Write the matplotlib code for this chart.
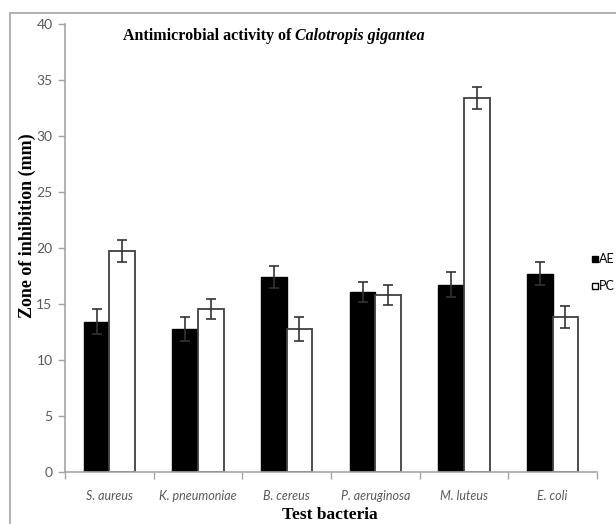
#!/usr/bin/env python3
"""
Grouped bar chart: antimicrobial activity of Calotropis gigantea
(zone of inhibition, AE vs PC, with error bars).
"""

import numpy as np
import matplotlib
matplotlib.use("Agg")
import matplotlib.pyplot as plt
from matplotlib.patches import Rectangle

bacteria = ["S. aureus", "K. pneumoniae", "B. cereus",
            "P. aeruginosa", "M. luteus", "E. coli"]
ae_values = [13.4, 12.75, 17.4, 16.05, 16.7, 17.7]
ae_errors = [1.1, 1.05, 1.0, 0.9, 1.1, 1.0]
pc_values = [19.7, 14.5, 12.75, 15.8, 33.4, 13.8]
pc_errors = [1.0, 0.9, 1.1, 0.9, 1.0, 1.0]
series_names = ["AE", "PC"]

W, H = 616, 524
GRAY = "#a6a6a6"
TXT = "#595959"


def fx(px):
    return px / W


def fy(py):
    return 1 - py / H


def main():
    fig = plt.figure(figsize=(W / 100, H / 100), dpi=100)
    ax = fig.add_axes([fx(65), fy(471.7), fx(597) - fx(65), fy(24) - fy(471.7)])

    x = np.arange(len(bacteria))
    bw = 0.288
    err_kw = dict(ecolor="#333333", elinewidth=1.2, capsize=3.5, capthick=1.2)
    ax.bar(x - bw / 2, ae_values, bw, yerr=ae_errors, color="black",
           edgecolor="black", linewidth=1, error_kw=err_kw, zorder=2)
    ax.bar(x + bw / 2, pc_values, bw, yerr=pc_errors, color="white",
           edgecolor="#404040", linewidth=1.3, error_kw=err_kw, zorder=2)

    ax.set_xlim(-0.5, len(bacteria) - 0.5)
    ax.set_ylim(0, 40)
    ax.set_yticks(range(0, 41, 5))
    ax.set_xticks(x)
    ax.set_xticklabels(bacteria, fontstyle="italic", fontsize=9,
                       color=TXT, family="Lato")
    ax.set_xticks(np.arange(-0.5, len(bacteria)), minor=True)
    ax.tick_params(axis="x", which="major", length=0, pad=13)
    ax.tick_params(axis="x", which="minor", length=5, color=GRAY, width=1)
    ax.tick_params(axis="y", length=5, color=GRAY, width=1, labelsize=10,
                   labelcolor=TXT, pad=4)
    for lab in ax.get_yticklabels():
        lab.set_family("Lato")

    for s in ["top", "right"]:
        ax.spines[s].set_visible(False)
    for s in ["left", "bottom"]:
        ax.spines[s].set_color(GRAY)
        ax.spines[s].set_linewidth(1.2)

    fig.text(fx(27), fy(226), "Zone of inhibition (mm)", rotation=90,
             ha="center", va="center", fontsize=13, fontweight="bold",
             family="Liberation Serif")
    fig.text(fx(330), fy(515), "Test bacteria", ha="center", va="center",
             fontsize=12.5, fontweight="bold", family="Liberation Serif")

    # title: regular bold + bold italic species name, centred as one line
    renderer = fig.canvas.get_renderer()
    t1 = fig.text(0, fy(36), "Antimicrobial activity of ", fontsize=11.5,
                  fontweight="bold", family="Liberation Serif", va="center")
    t2 = fig.text(0, fy(36), "Calotropis gigantea", fontsize=11.5,
                  fontweight="bold", fontstyle="italic",
                  family="Liberation Serif", va="center")
    w1 = t1.get_window_extent(renderer).width
    w2 = t2.get_window_extent(renderer).width
    start = 274 - (w1 + w2) / 2
    t1.set_x(fx(start))
    t2.set_x(fx(start + w1))

    # legend, partly cut off by the right edge like the original
    for i, (name, fc) in enumerate(zip(series_names, ["black", "white"])):
        yc = 259 + i * 26.5
        fig.add_artist(Rectangle((fx(591.5), fy(yc + 3)), fx(6), 6 / H,
                                 transform=fig.transFigure, facecolor=fc,
                                 edgecolor="black", linewidth=1))
        fig.text(fx(599), fy(yc), name, fontsize=9, va="center",
                 color="black", family="Lato")

    # outer chart frame
    fig.add_artist(Rectangle((fx(10), -0.1), 1.2, fy(13) + 0.1,
                             transform=fig.transFigure, fill=False,
                             edgecolor=GRAY, linewidth=1.2))

    fig.savefig("out.png", dpi=100)


if __name__ == "__main__":
    main()
